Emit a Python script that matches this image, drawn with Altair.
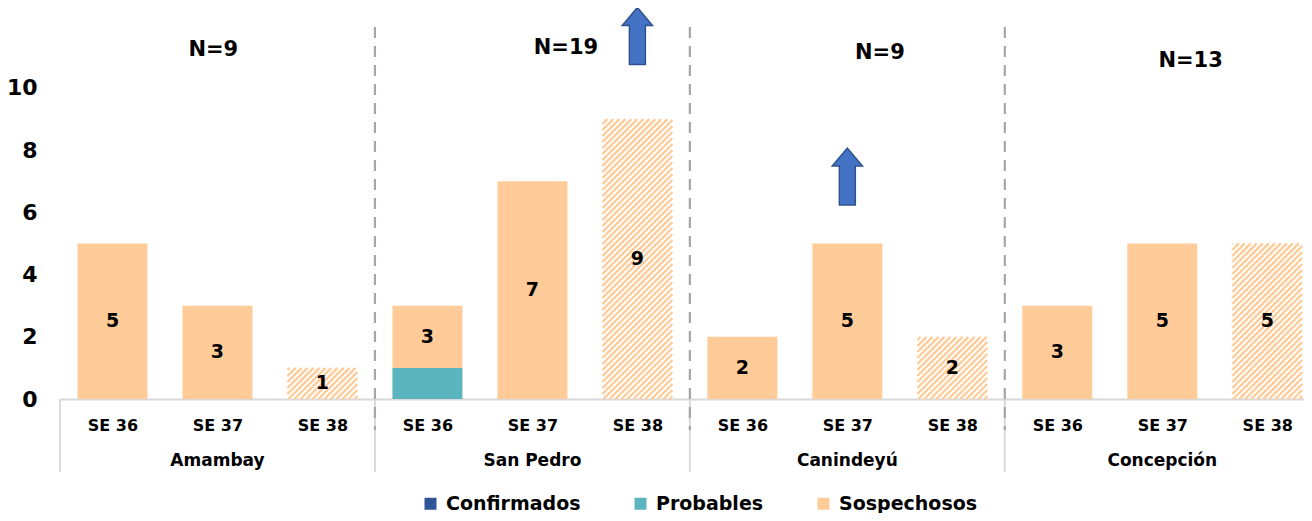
import altair as alt
import pandas as pd

# ---------------- data ----------------
regions = ["Amambay", "San Pedro", "Canindeyú", "Concepción"]
weeks = ["SE 36", "SE 37", "SE 38"]
series = ["Confirmados", "Probables", "Sospechosos"]
confirmados = [0, 0, 0, 0, 0, 0, 0, 0, 0, 0, 0, 0]
probables = [0, 0, 0, 1, 0, 0, 0, 0, 0, 0, 0, 0]
sospechosos = [5, 3, 1, 2, 7, 9, 2, 5, 2, 3, 5, 5]
region_n = ["N=9", "N=19", "N=9", "N=13"]
n_label_x = [0.96, 4.32, 7.31, 10.27]
n_label_y = [11.22, 11.29, 11.13, 10.87]
arrow_x = [5, 7]
arrow_y = [11.67, 7.15]
hatched_week = "SE 38"
y_ticks = [0, 2, 4, 6, 8, 10]

# ---------------- style ----------------
colors = ["#2F5597", "#5BB5BF", "#FFCC99"]
FONT = "DejaVu Sans"
W, H = 1244, 391
X_MIN, X_MAX = -0.5, 11.35
Y_MAX = 12.57
BAR_W = 70
PX_X = W / (X_MAX - X_MIN)
PX_Y = H / Y_MAX
HATCH_PERIOD = 6.0

rows, labels = [], []
for r, reg in enumerate(regions):
    for w, wk in enumerate(weeks):
        i = r * 3 + w
        base = 0
        for s, vals in zip(series, [confirmados, probables, sospechosos]):
            v = vals[i]
            if v > 0:
                rows.append(dict(idx=i, region=reg, week=wk, series=s,
                                 y0=base, y1=base + v, value=v,
                                 hatched=(wk == hatched_week and s == "Sospechosos")))
            base += v
        total = confirmados[i] + probables[i] + sospechosos[i]
        mid = confirmados[i] + probables[i] + sospechosos[i] / 2
        labels.append(dict(idx=i, total=total, mid=mid))
bars_df = pd.DataFrame(rows)
labels_df = pd.DataFrame(labels)

# diagonal hatch strokes for the hatched segments, derived from their extents
hatch_rows = []
for rec in rows:
    if not rec["hatched"]:
        continue
    w_px = BAR_W
    h_px = (rec["y1"] - rec["y0"]) * PX_Y
    left = rec["idx"] - BAR_W / 2 / PX_X
    d = -w_px + HATCH_PERIOD / 2
    while d < h_px:
        xa = max(0.0, -d)
        xb = min(w_px, h_px - d)
        if xb > xa:
            hatch_rows.append(dict(
                x=left + xa / PX_X, x2=left + xb / PX_X,
                y=rec["y0"] + (xa + d) / PX_Y, y2=rec["y0"] + (xb + d) / PX_Y))
        d += HATCH_PERIOD
hatch_df = pd.DataFrame(hatch_rows)

xs = alt.Scale(domain=[X_MIN, X_MAX], nice=False, zero=False, padding=0)
ys = alt.Scale(domain=[0, Y_MAX], nice=False, zero=True, padding=0)

label_expr = "[" + ",".join(f"'{w}'" for w in weeks) + "][datum.value % 3]"

x_axis = alt.Axis(
    values=list(range(12)), labelExpr=label_expr, title=None,
    domain=True, domainColor="#D9D9D9", domainWidth=2, ticks=False,
    grid=False, labelFont=FONT, labelFontSize=16, labelFontWeight="bold",
    labelColor="black", labelPadding=18, labelAngle=0,
    labelOverlap=False, labelFlush=False)
y_axis = alt.Axis(
    values=y_ticks, title=None, domain=False, ticks=False, grid=False,
    labelFont=FONT, labelFontSize=22, labelFontWeight="bold",
    labelColor="black", labelPadding=23)


def X(field):
    return alt.X(field, type="quantitative", scale=xs, axis=x_axis)


def Y(field):
    return alt.Y(field, type="quantitative", scale=ys, axis=y_axis)


bars = alt.Chart(bars_df).transform_filter(
    alt.datum.hatched == False  # noqa: E712
).mark_bar(width=BAR_W, strokeWidth=0).encode(
    x=X("idx"),
    y=Y("y0"),
    y2="y1:Q",
    color=alt.Color("series:N", scale=alt.Scale(domain=series, range=colors),
                    legend=alt.Legend(
                        title=None, orient="none", legendX=361, legendY=486,
                        direction="horizontal", symbolType="square",
                        symbolSize=144, symbolStrokeWidth=0,
                        labelFont=FONT, labelFontSize=19,
                        labelFontWeight="bold", labelColor="black",
                        columnPadding=50, labelOffset=6)),
)

hatch = alt.Chart(hatch_df).mark_rule(
    color=colors[2], strokeWidth=2.4, strokeCap="butt"
).encode(
    x=X("x"), x2="x2:Q", y=Y("y"), y2="y2:Q",
)

bar_text = alt.Chart(labels_df).mark_text(
    font=FONT, fontSize=19, fontWeight="bold", color="black", baseline="middle"
).encode(
    x=X("idx"),
    y=Y("mid"),
    text="total:Q",
)

n_df = pd.DataFrame(dict(x=n_label_x, y=n_label_y, t=region_n))
n_text = alt.Chart(n_df).mark_text(
    font=FONT, fontSize=21, fontWeight="bold", color="black", baseline="middle"
).encode(
    x=X("x"),
    y=Y("y"),
    text="t:N",
)

reg_df = pd.DataFrame(dict(x=[r * 3 + 1 for r in range(len(regions))], t=regions))
reg_text = alt.Chart(reg_df).mark_text(
    font=FONT, fontSize=17, fontWeight="bold", color="black", baseline="middle"
).encode(
    x=X("x"),
    y=alt.value(453),
    text="t:N",
)

solid_df = pd.DataFrame(dict(x=[r * 3 - 0.5 for r in range(len(regions))]))
solid_rules = alt.Chart(solid_df).mark_rule(color="#D9D9D9", strokeWidth=2).encode(
    x=X("x"),
    y=alt.value(391), y2=alt.value(464),
)
dash_df = pd.DataFrame(dict(x=[r * 3 - 0.5 for r in range(1, len(regions))]))
dash_rules = alt.Chart(dash_df).mark_rule(
    color="#A6A6A6", strokeWidth=2.2, strokeDash=[11, 8]
).encode(
    x=X("x"),
    y=alt.value(19), y2=alt.value(422),
)

arrow_path = ("M-0.28,1 L-0.28,-0.37 L-0.53,-0.37 L0,-1 L0.53,-0.37 "
              "L0.28,-0.37 L0.28,1 Z")
arrow_df = pd.DataFrame(dict(x=arrow_x, y=arrow_y))
arrows = alt.Chart(arrow_df).mark_point(
    shape=arrow_path, size=3249, filled=True, fill="#4472C4",
    stroke="#2F528F", strokeWidth=1.5, opacity=1
).encode(
    x=X("x"),
    y=Y("y"),
)

chart = alt.layer(
    solid_rules, dash_rules, bars, hatch, bar_text, n_text, reg_text, arrows
).properties(
    width=W, height=H,
    autosize=alt.AutoSizeParams(type="none"),
    padding={"left": 52, "top": 0, "right": 0, "bottom": 114},
).configure_view(stroke=None)

chart.save("out.html", embed_options={"renderer": "svg", "actions": False})
